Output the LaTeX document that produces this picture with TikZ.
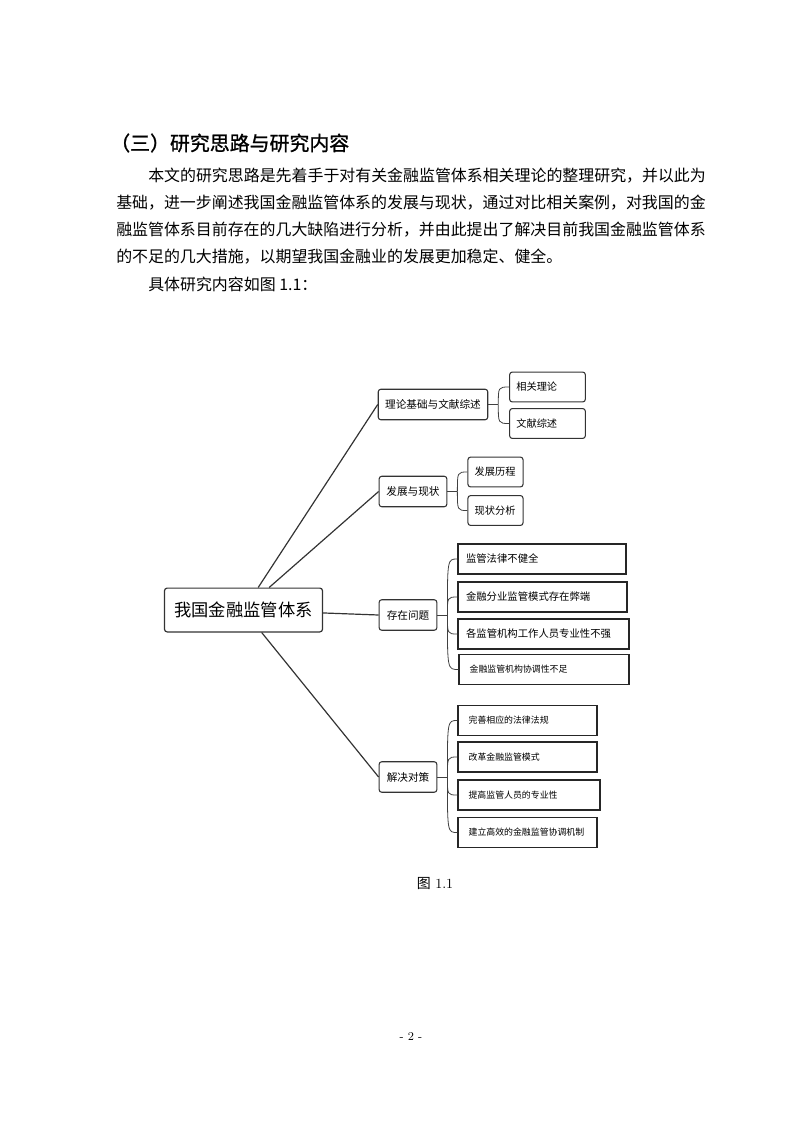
\documentclass[tikz,border=0pt]{standalone}
\usepackage{fontspec}
\newfontfamily\cjk{Noto Sans CJK SC}
\newfontfamily\cjkhead[FakeBold=1.2]{Noto Sans CJK SC}
\usepackage{tikz}
\usetikzlibrary{positioning}
\XeTeXlinebreaklocale "zh"
\XeTeXlinebreakskip=0pt plus 1pt

\begin{document}
\begin{tikzpicture}[x=0.02648cm, y=-0.02648cm,
  heading/.style={font=\cjkhead\fontsize{15pt}{18pt}\selectfont, inner sep=0pt},
  body/.style={font=\cjk\fontsize{12pt}{14pt}\selectfont, inner sep=0pt},
  rootbox/.style={draw=black!80, rounded corners=2pt, line width=0.9pt,
              minimum width=119pt, minimum height=33pt,
              font=\cjk\fontsize{13pt}{15pt}\selectfont},
  topicbox/.style={draw=black!80, rounded corners=2pt, line width=0.8pt,
              minimum height=23pt, inner xsep=2pt,
              font=\cjk\fontsize{8pt}{9pt}\selectfont},
  subbox/.style={draw=black!80, rounded corners=2pt, line width=0.8pt,
              minimum height=22.5pt, text width=#1, align=left, inner xsep=5pt,
              font=\cjk\fontsize{7.7pt}{9pt}\selectfont},
  listbox/.style={draw=black!85, line width=1pt, minimum height=22.5pt,
              text width=#1, align=left, inner xsep=6pt,
              font=\cjk\fontsize{7.8pt}{9pt}\selectfont},
  smallbox/.style={listbox=#1, inner xsep=8pt,
              font=\cjk\fontsize{6.7pt}{8pt}\selectfont},
  trunk/.style={draw=black!80, line width=0.9pt},
  link/.style={draw=black!75, line width=0.6pt},
  note/.style={font=\fontsize{10.5pt}{12pt}\selectfont}
]
  \useasboundingbox (0,0) rectangle (793,1122);

  \node[heading, anchor=west] (title) at (110,143) {（三）研究思路与研究内容};
  \node[body, anchor=west] (line1) at (148,176)
    {\makebox[414.3pt][s]{本文的研究思路是先着手于对有关金融监管体系相关理论的整理研究，并以此为}};
  \node[body, anchor=west] (line2) at (116,203)
    {\makebox[438.3pt][s]{基础，进一步阐述我国金融监管体系的发展与现状，通过对比相关案例，对我国的金}};
  \node[body, anchor=west] (line3) at (116,230)
    {\makebox[438.3pt][s]{融监管体系目前存在的几大缺陷进行分析，并由此提出了解决目前我国金融监管体系}};
  \node[body, anchor=west] (line4) at (116,257) {的不足的几大措施，以期望我国金融业的发展更加稳定、健全。};
  \node[body, anchor=west] (line5) at (148,284) {具体研究内容如图 1.1：};

  \node[rootbox] (root) at (243.5,610) {我国金融监管体系};

  \node[topicbox, minimum width=82.5pt] (theory) at (433,404.5) {理论基础与文献综述};
  \node[subbox=47pt] (theory1) at (547.5,387) {相关理论};
  \node[subbox=47pt] (theory2) at (547.5,423.5) {文献综述};

  \node[topicbox, minimum width=51pt] (status) at (413,491.5) {发展与现状};
  \node[subbox=31.5pt] (status1) at (495.5,472) {发展历程};
  \node[subbox=31.5pt] (status2) at (495.5,510.5) {现状分析};

  \node[topicbox, minimum width=43.5pt] (issue) at (408,615) {存在问题};
  \node[listbox=114.5pt] (issue1) at (542,559) {监管法律不健全};
  \node[listbox=115.2pt] (issue2) at (542.5,597) {金融分业监管模式存在弊端};
  \node[listbox=116.7pt] (issue3) at (543.5,634) {各监管机构工作人员专业性不强};
  \node[smallbox=112pt] (issue4) at (544,669.5) {金融监管机构协调性不足};

  \node[topicbox, minimum width=43.5pt] (plan) at (408,777) {解决对策};
  \node[smallbox=88.7pt] (plan1) at (527.5,720.5) {完善相应的法律法规};
  \node[smallbox=88.7pt] (plan2) at (527.5,757) {改革金融监管模式};
  \node[smallbox=91pt] (plan3) at (529,795) {提高监管人员的专业性};
  \node[smallbox=88.7pt] (plan4) at (527.5,832.5) {建立高效的金融监管协调机制};

  \foreach \t in {theory, status, issue, plan}
    \draw[trunk] (root) -- (\t.west);

  \draw[link] (theory.east) -- ++(10,0) coordinate (jtheory);
  \draw[link] (status.east) -- ++(10,0) coordinate (jstatus);
  \draw[link] (issue.east) -- ++(10,0) coordinate (jissue);
  \draw[link] (plan.east) -- ++(10,0) coordinate (jplan);
  \foreach \c in {theory1, theory2}
    \draw[link] (jtheory) .. controls (jtheory |- \c.west) .. (\c.west);
  \foreach \c in {status1, status2}
    \draw[link] (jstatus) .. controls (jstatus |- \c.west) .. (\c.west);
  \foreach \c in {issue1, issue2, issue3, issue4}
    \draw[link] (jissue) .. controls (jissue |- \c.west) .. (\c.west);
  \foreach \c in {plan1, plan2, plan3, plan4}
    \draw[link] (jplan) .. controls (jplan |- \c.west) .. (\c.west);

  \node[note] (caption) at (435,883) {{\cjk 图} 1.1};
  \node[font=\fontsize{9pt}{11pt}\selectfont] (pagenum) at (411,1037) {- 2 -};
\end{tikzpicture}
\end{document}
